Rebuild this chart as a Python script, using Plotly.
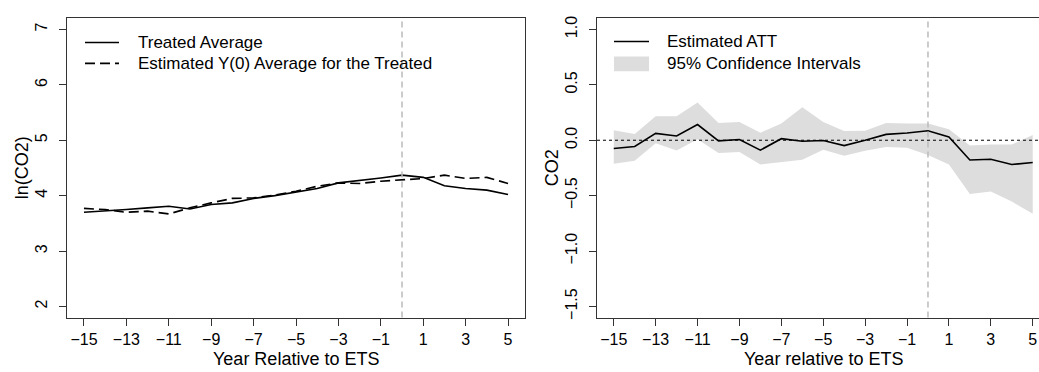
import plotly.graph_objects as go

# Event time relative to ETS entry
years = list(range(-15, 6))

# Left panel: ln(CO2) averages
treated_avg = [3.70, 3.72, 3.75, 3.78, 3.81, 3.76, 3.84, 3.87, 3.95, 4.00, 4.06,
               4.13, 4.23, 4.27, 4.32, 4.37, 4.33, 4.18, 4.13, 4.10, 4.02]
y0_avg = [3.77, 3.75, 3.70, 3.72, 3.67, 3.78, 3.87, 3.95, 3.96, 4.01, 4.08,
          4.17, 4.23, 4.22, 4.26, 4.29, 4.31, 4.37, 4.31, 4.33, 4.22]

# Right panel: estimated ATT with 95% confidence band
att = [-0.074, -0.056, 0.062, 0.038, 0.142, -0.006, 0.006, -0.089, 0.014, -0.009, -0.003,
       -0.048, 0.000, 0.053, 0.065, 0.085, 0.029, -0.178, -0.172, -0.219, -0.201]
ci_upper = [0.091, 0.056, 0.216, 0.216, 0.340, 0.156, 0.165, 0.067, 0.151, 0.298, 0.165,
            0.083, 0.085, 0.156, 0.151, 0.151, 0.100, -0.048, -0.039, -0.039, 0.047]
ci_lower = [-0.213, -0.184, -0.027, -0.092, 0.009, -0.115, -0.107, -0.219, -0.195, -0.175, -0.086,
            -0.139, -0.095, -0.062, -0.068, -0.133, -0.219, -0.485, -0.462, -0.553, -0.663]

x_ticks = [-15, -13, -11, -9, -7, -5, -3, -1, 1, 3, 5]
x_tick_text = ["\u221215", "\u221213", "\u221211", "\u22129", "\u22127", "\u22125",
               "\u22123", "\u22121", "1", "3", "5"]
left_y_ticks = [2, 3, 4, 5, 6, 7]
right_y_ticks = [-1.5, -1.0, -0.5, 0.0, 0.5, 1.0]
right_y_text = ["\u22121.5", "\u22121.0", "\u22120.5", "0.0", "0.5", "1.0"]

FONT = "Liberation Sans, Arial, Helvetica, sans-serif"
W, H = 1039, 372
Y_DOM = [(H - 319) / H, (H - 16.5) / H]
X1_DOM = [67 / W, 525 / W]
X2_DOM = [597 / W, 1.0]

fig = go.Figure()

# Left panel lines
fig.add_trace(go.Scatter(x=years, y=treated_avg, mode="lines",
                         line=dict(color="black", width=1.6),
                         xaxis="x", yaxis="y", showlegend=False))
fig.add_trace(go.Scatter(x=years, y=y0_avg, mode="lines",
                         line=dict(color="black", width=1.6, dash="10px,5px"),
                         xaxis="x", yaxis="y", showlegend=False))

# Right panel: confidence band then ATT line
fig.add_trace(go.Scatter(x=years + years[::-1], y=ci_upper + ci_lower[::-1],
                         mode="lines", fill="toself", fillcolor="#DDDDDD",
                         line=dict(width=0, color="rgba(0,0,0,0)"),
                         xaxis="x2", yaxis="y2", showlegend=False, hoverinfo="skip"))
fig.add_trace(go.Scatter(x=years, y=att, mode="lines",
                         line=dict(color="black", width=1.6),
                         xaxis="x2", yaxis="y2", showlegend=False))

axis_common = dict(showgrid=False, zeroline=False, showline=True, linecolor="#333333",
                   linewidth=1, ticks="outside", ticklen=7, tickwidth=1, tickcolor="#333333",
                   tickfont=dict(family=FONT, size=16, color="black"))

fig.update_layout(
    width=W, height=H,
    margin=dict(l=0, r=0, t=0, b=0),
    paper_bgcolor="white", plot_bgcolor="white",
    xaxis=dict(domain=X1_DOM, anchor="y", range=[-15.8, 5.8], tickmode="array",
               tickvals=x_ticks, ticktext=x_tick_text, mirror=True, **axis_common),
    yaxis=dict(domain=Y_DOM, anchor="x", range=[1.8, 7.2], tickmode="array",
               tickvals=left_y_ticks, ticktext=[str(v) for v in left_y_ticks],
               tickangle=-90, mirror=True, ticklabelstandoff=6, **axis_common),
    xaxis2=dict(domain=X2_DOM, anchor="y2", range=[-15.8, 5.3], tickmode="array",
                tickvals=x_ticks, ticktext=x_tick_text, mirror=True, **axis_common),
    yaxis2=dict(domain=Y_DOM, anchor="x2", range=[-1.6, 1.1], tickmode="array",
                tickvals=right_y_ticks, ticktext=right_y_text,
                tickangle=-90, mirror=False, ticklabelstandoff=6, **axis_common),
    showlegend=False,
)

# Reference lines: treatment onset and zero effect
fig.add_shape(type="line", xref="x", yref="y domain", x0=0, x1=0, y0=0, y1=1,
              line=dict(color="#BBBBBB", width=1.5, dash="6px,4px"))
fig.add_shape(type="line", xref="x2", yref="y2 domain", x0=0, x1=0, y0=0, y1=1,
              line=dict(color="#BBBBBB", width=1.5, dash="6px,4px"))
fig.add_shape(type="line", xref="x2 domain", yref="y2", x0=0, x1=1, y0=0, y1=0,
              line=dict(color="black", width=1, dash="3px,3px"))

txt = dict(family=FONT, size=17, color="black")
title_font = dict(family=FONT, size=18, color="black")


def px(x):
    return x / W


def py(y):
    return 1 - y / H


# Legend keys (left panel)
fig.add_shape(type="line", xref="paper", yref="paper", x0=px(85), x1=px(119),
              y0=py(41), y1=py(41), line=dict(color="black", width=1.6))
fig.add_shape(type="line", xref="paper", yref="paper", x0=px(85), x1=px(119),
              y0=py(62), y1=py(62), line=dict(color="black", width=1.6, dash="10px,5px"))
fig.add_annotation(xref="paper", yref="paper", x=px(136), y=py(41), text="Treated Average",
                   showarrow=False, xanchor="left", yanchor="middle", font=txt)
fig.add_annotation(xref="paper", yref="paper", x=px(136), y=py(62),
                   text="Estimated Y(0) Average for the Treated",
                   showarrow=False, xanchor="left", yanchor="middle", font=txt)

# Legend keys (right panel)
fig.add_shape(type="line", xref="paper", yref="paper", x0=px(614), x1=px(649),
              y0=py(40), y1=py(40), line=dict(color="black", width=1.6))
fig.add_shape(type="rect", xref="paper", yref="paper", x0=px(614), x1=px(649),
              y0=py(70), y1=py(55), line=dict(width=0), fillcolor="#DDDDDD")
fig.add_annotation(xref="paper", yref="paper", x=px(665), y=py(40), text="Estimated ATT",
                   showarrow=False, xanchor="left", yanchor="middle", font=txt)
fig.add_annotation(xref="paper", yref="paper", x=px(665), y=py(62),
                   text="95% Confidence Intervals",
                   showarrow=False, xanchor="left", yanchor="middle", font=txt)

# Axis titles
fig.add_annotation(xref="paper", yref="paper", x=px(296), y=0,
                   text="Year Relative to ETS", showarrow=False,
                   xanchor="center", yanchor="bottom", yshift=-1, font=title_font)
fig.add_annotation(xref="paper", yref="paper", x=px(823), y=0,
                   text="Year relative to ETS", showarrow=False,
                   xanchor="center", yanchor="bottom", yshift=-1, font=title_font)
fig.add_annotation(xref="paper", yref="paper", x=px(22), y=py(168),
                   text="ln(CO2)", showarrow=False, textangle=-90,
                   xanchor="center", yanchor="middle", font=title_font)
fig.add_annotation(xref="paper", yref="paper", x=px(552), y=py(168),
                   text="CO2", showarrow=False, textangle=-90,
                   xanchor="center", yanchor="middle", font=title_font)

fig.write_html("out.html")
